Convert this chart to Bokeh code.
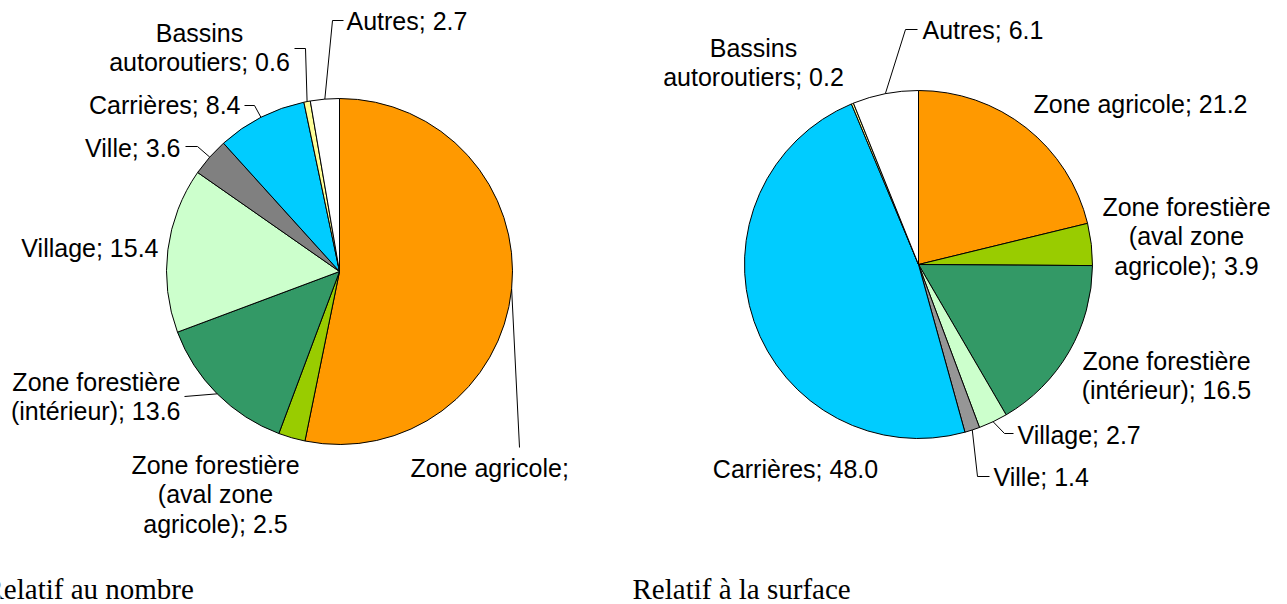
import math
from bokeh.plotting import figure
from bokeh.models import Range1d
from bokeh.core.properties import value
from bokeh.embed import file_html
from bokeh.resources import INLINE

# ---------------- data ----------------
categories = ["Zone agricole", "Zone forestière (aval zone agricole)",
              "Zone forestière (intérieur)", "Village", "Ville", "Carrières",
              "Bassins autoroutiers", "Autres"]
count_values = [53.2, 2.5, 13.6, 15.4, 3.6, 8.4, 0.6, 2.7]
surface_values = [21.2, 3.9, 16.5, 2.7, 1.4, 48.0, 0.2, 6.1]
count_labels = ["Zone agricole;", "Zone forestière\n(aval zone\nagricole); 2.5",
                "Zone forestière\n(intérieur); 13.6", "Village; 15.4", "Ville; 3.6",
                "Carrières; 8.4", "Bassins\nautoroutiers; 0.6", "Autres; 2.7"]
surface_labels = ["Zone agricole; 21.2", "Zone forestière\n(aval zone\nagricole); 3.9",
                  "Zone forestière\n(intérieur); 16.5", "Village; 2.7", "Ville; 1.4",
                  "Carrières; 48.0", "Bassins\nautoroutiers; 0.2", "Autres; 6.1"]
titles = ["Relatif au nombre", "Relatif à la surface"]

# ---------------- styles / layout ----------------
colors_count = ["#FF9900", "#99CC00", "#339966", "#CCFFCC", "#808080", "#00CCFF", "#FFFF99", "#FFFFFF"]
colors_surface = ["#FF9900", "#99CC00", "#339966", "#CCFFCC", "#969696", "#00CCFF", "#FFFF99", "#FFFFFF"]

W, H = 1287, 604
SANS = value("Liberation Sans")
SERIF = value("Liberation Serif")
FS = value("25px")
LH = 1.06

# layout in image pixel coords (y downward); converted below
left_layout = dict(cx=339, cy=271, r=173, labels=[
    (410, 467, "left", [(519, 447)]),
    (215, 494, "center", None),
    (180, 396, "right", [(184, 396)]),
    (158, 247, "right", None),
    (180, 147, "right", [(197, 146), (185, 146)]),
    (240, 104, "right", [(254, 105), (244, 105)]),
    (199, 47, "center", [(305, 48), (294, 48)]),
    (346, 20, "left", [(332, 20), (343, 20)]),
], title=(-16, 588))
right_layout = dict(cx=918, cy=264, r=174, labels=[
    (1033, 103, "left", None),
    (1186, 236, "center", None),
    (1166, 375, "center", None),
    (1017, 434, "left", [(1004, 433), (1013, 433)]),
    (993, 476, "left", [(977, 476), (989, 476)]),
    (795, 468, "center", None),
    (753, 62, "center", None),
    (922, 29, "left", [(905, 29), (917, 29)]),
], title=(632, 588))


def Y(yimg):
    return H - yimg


p = figure(width=W, height=H, x_range=Range1d(0, W), y_range=Range1d(0, H),
           output_backend="svg", toolbar_location=None, min_border=0,
           tools="")
p.axis.visible = False
p.xgrid.visible = False
p.ygrid.visible = False
p.outline_line_color = None
p.background_fill_color = "white"
p.border_fill_color = "white"


def draw_pie(vals, labels, cols, lay, title):
    cx, cy, r = lay["cx"], Y(lay["cy"]), lay["r"]
    total = sum(vals)
    cum = 0.0
    starts, ends, mids = [], [], []
    for v in vals:
        a0 = math.pi / 2 - 2 * math.pi * cum / total
        cum += v
        a1 = math.pi / 2 - 2 * math.pi * cum / total
        starts.append(a0)
        ends.append(a1)
        mids.append((a0 + a1) / 2)
    p.wedge(x=[cx] * len(vals), y=[cy] * len(vals), radius=r,
            start_angle=starts, end_angle=ends, direction="clock",
            fill_color=cols, line_color="black", line_width=1)
    xs, ys = [], []
    for m, (lx, ly, align, leader) in zip(mids, lay["labels"]):
        if leader:
            ex = cx + r * math.cos(m)
            ey = cy + r * math.sin(m)
            xs.append([ex] + [q[0] for q in leader])
            ys.append([ey] + [Y(q[1]) for q in leader])
    if xs:
        p.multi_line(xs=xs, ys=ys, line_color="black", line_width=1)
    for txt, (lx, ly, align, leader) in zip(labels, lay["labels"]):
        p.text(x=[lx], y=[Y(ly)], text=[txt], text_font=SANS, text_font_size=FS,
               text_align=align, text_baseline="middle", text_color="black",
               text_line_height=LH)
    tx, ty = lay["title"]
    p.text(x=[tx], y=[Y(ty)], text=[title], text_font=SERIF,
           text_font_size=value("29px"), text_align="left",
           text_baseline="middle", text_color="black")


draw_pie(count_values, count_labels, colors_count, left_layout, titles[0])
draw_pie(surface_values, surface_labels, colors_surface, right_layout, titles[1])

open("out.html", "w").write(file_html(p, INLINE))
